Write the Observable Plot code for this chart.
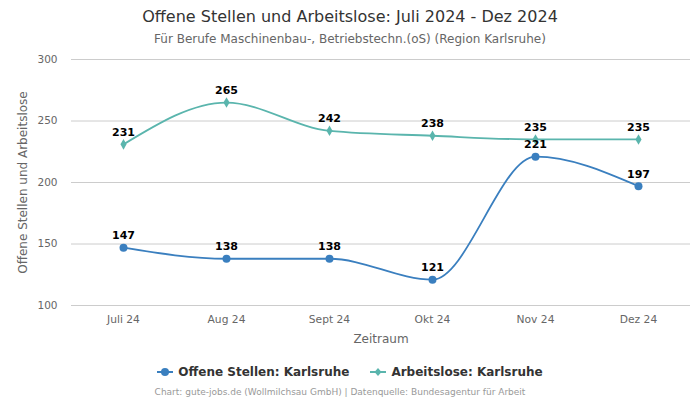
<!DOCTYPE html>
<html>
<head>
<meta charset="utf-8">
<script src="https://cdn.jsdelivr.net/npm/d3@7"></script>
<script src="https://cdn.jsdelivr.net/npm/@observablehq/plot@0.6"></script>
<style>
  html, body { margin: 0; padding: 0; background: #fff; }
  body { width: 700px; height: 400px; position: relative; font-family: "DejaVu Sans", sans-serif; overflow: hidden; }
  .title { position: absolute; top: 7px; left: 0; width: 700px; text-align: center; font-size: 16px; color: #333; }
  .subtitle { position: absolute; top: 32px; left: 0; width: 700px; text-align: center; font-size: 12px; color: #666; }
  #chart { position: absolute; top: 45px; left: 0; }
  #chart g[aria-label="y-axis label"] text, #chart g[aria-label="x-axis label"] text { font-size: 12px; }
  .legend { position: absolute; top: 365px; left: 0; width: 700px; text-align: center; font-size: 12px; font-weight: bold; color: #333; }
  .legend span.item { display: inline-flex; align-items: center; margin: 0 10px; }
  .legend span.item:first-child { margin-right: 11px; }
  .legend svg { margin-right: 5px; }
  .caption { position: absolute; top: 387px; left: -10px; width: 700px; text-align: center; font-size: 9px; color: #999; }
</style>
</head>
<body>
<div class="title">Offene Stellen und Arbeitslose: Juli 2024 - Dez 2024</div>
<div class="subtitle">Für Berufe Maschinenbau-, Betriebstechn.(oS) (Region Karlsruhe)</div>
<div id="chart"></div>
<div class="legend" id="legend"></div>
<div class="caption">Chart: gute-jobs.de (Wollmilchsau GmbH) | Datenquelle: Bundesagentur für Arbeit</div>
<script>
const months = ["Juli 24", "Aug 24", "Sept 24", "Okt 24", "Nov 24", "Dez 24"];
const offeneStellen = [147, 138, 138, 121, 221, 197];
const arbeitslose = [231, 265, 242, 238, 235, 235];
const seriesNames = ["Offene Stellen: Karlsruhe", "Arbeitslose: Karlsruhe"];
const seriesColors = ["#3a7fbf", "#5ab5ad"];
const yTicks = [100, 150, 200, 250, 300];

const offData = months.map((m, i) => ({month: m, value: offeneStellen[i]}));
const arbData = months.map((m, i) => ({month: m, value: arbeitslose[i]}));

const chart = Plot.plot({
  width: 700,
  height: 310,
  marginTop: 14,
  marginBottom: 50,
  marginLeft: 71,
  marginRight: 10,
  style: {fontFamily: "DejaVu Sans, sans-serif", fontSize: "11px", color: "#666"},
  x: {type: "point", domain: months, padding: 0.5},
  y: {domain: [100, 300]},
  marks: [
    Plot.gridY(yTicks, {stroke: "#cccccc", strokeOpacity: 1}),
    Plot.axisY(yTicks, {tickSize: 0, tickPadding: 14, fontSize: 10.5, label: "Offene Stellen und Arbeitslose", labelAnchor: "center", labelArrow: "none", labelOffset: 53}),
    Plot.axisX({tickSize: 0, tickPadding: 10, fontSize: 10.7, label: "Zeitraum", labelAnchor: "center", labelArrow: "none", labelOffset: 37}),
    Plot.line(arbData, {x: "month", y: "value", stroke: seriesColors[1], strokeWidth: 1.8, curve: "monotone-x"}),
    Plot.dot(arbData, {x: "month", y: "value", fill: seriesColors[1], symbol: "diamond", r: 3.2}),
    Plot.line(offData, {x: "month", y: "value", stroke: seriesColors[0], strokeWidth: 1.8, curve: "monotone-x"}),
    Plot.dot(offData, {x: "month", y: "value", fill: seriesColors[0], r: 4}),
    Plot.text(arbData, {x: "month", y: "value", text: d => String(d.value), dy: -12, fill: "#000", fontWeight: "bold", fontSize: 11}),
    Plot.text(offData, {x: "month", y: "value", text: d => String(d.value), dy: -12, fill: "#000", fontWeight: "bold", fontSize: 11})
  ]
});
document.getElementById("chart").appendChild(chart);

const legend = document.getElementById("legend");
seriesNames.forEach((name, i) => {
  const item = document.createElement("span");
  item.className = "item";
  const marker = i === 0
    ? `<circle cx="8" cy="6" r="4" fill="${seriesColors[i]}"/>`
    : `<path d="M8 2 L11.5 6 L8 10 L4.5 6 Z" fill="${seriesColors[i]}"/>`;
  item.innerHTML = `<svg width="16" height="12"><line x1="0" y1="6" x2="16" y2="6" stroke="${seriesColors[i]}" stroke-width="2"/>${marker}</svg>${name}`;
  legend.appendChild(item);
});
</script>
</body>
</html>
